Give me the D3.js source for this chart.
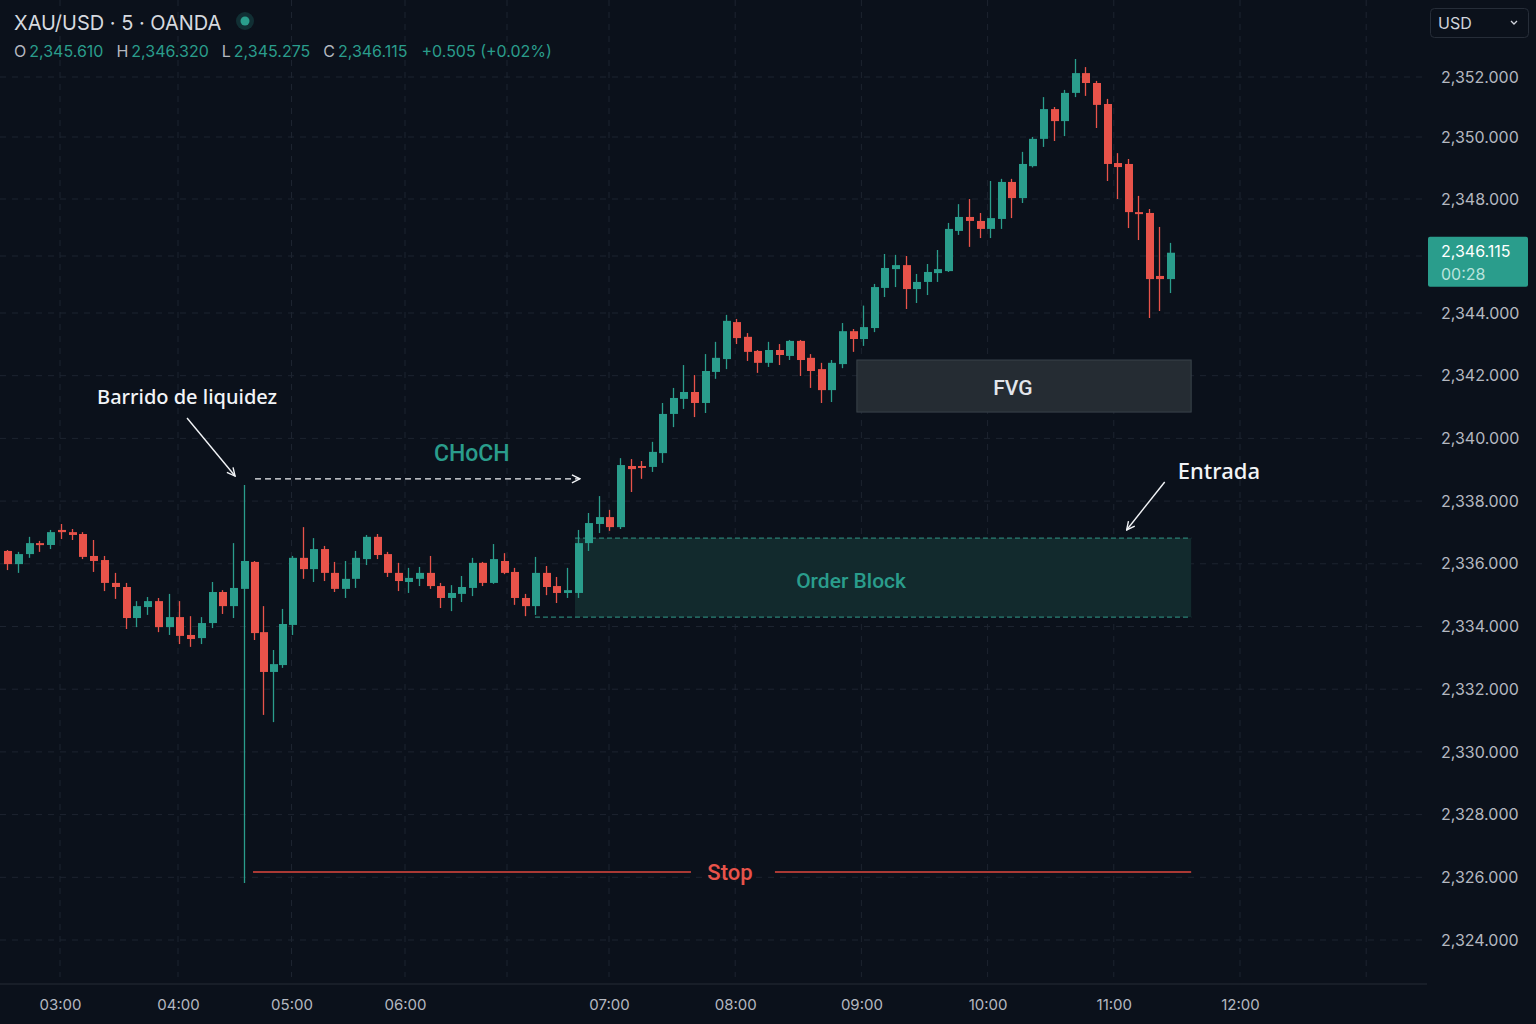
<!DOCTYPE html>
<html>
<head>
<meta charset="utf-8">
<title>XAU/USD · 5 · OANDA</title>
<script src="https://cdn.jsdelivr.net/npm/d3@7"></script>
<style>
  html, body { margin: 0; padding: 0; background: #0b111b; }
  svg { display: block; }
</style>
</head>
<body>
<div id="container"></div>
<script>
// OHLC values, one 5 min candle each
const opens = [2336.41,2335.99,2336.31,2336.66,2336.60,2337.08,2337.01,2336.95,2336.25,2336.12,
  2335.39,2335.26,2334.27,2334.62,2334.81,2333.98,2334.30,2333.73,2333.63,2334.11,
  2335.10,2334.65,2335.20,2336.06,2333.82,2332.55,2332.77,2334.05,2336.19,2335.83,
  2336.47,2335.71,2335.20,2335.52,2336.15,2336.86,2336.31,2335.71,2335.42,2335.52,
  2335.71,2335.29,2334.91,2335.04,2335.23,2336.03,2335.39,2336.09,2335.74,2334.91,
  2334.65,2335.71,2335.29,2335.07,2335.07,2336.66,2337.27,2337.49,2337.17,2339.12,
  2339.12,2339.09,2339.53,2340.78,2341.26,2341.48,2341.13,2342.12,2342.53,2343.71,
  2343.24,2342.79,2342.41,2342.82,2342.63,2343.11,2342.57,2342.21,2341.54,2342.37,
  2343.42,2343.17,2343.52,2344.88,2345.54,2345.68,2344.84,2345.09,2345.40,2345.47,
  2346.88,2347.37,2347.23,2346.95,2347.30,2348.55,2348.03,2349.06,2349.94,2350.93,
  2350.53,2351.47,2352.13,2351.80,2351.10,2349.16,2349.13,2347.54,2347.51,2345.30,
  2345.19];
const highs = [2336.44,2336.38,2336.86,2336.73,2337.08,2337.27,2337.11,2337.01,2336.76,2336.25,
  2335.71,2335.39,2334.81,2334.94,2334.91,2335.04,2334.81,2334.33,2334.30,2335.42,
  2335.16,2336.66,2338.51,2336.09,2334.65,2333.25,2334.56,2336.25,2337.17,2336.82,
  2336.57,2336.06,2336.09,2336.41,2336.92,2336.95,2336.38,2336.03,2335.87,2335.90,
  2336.25,2335.39,2335.32,2335.61,2336.19,2336.06,2336.63,2336.34,2335.87,2335.04,
  2336.22,2335.93,2335.58,2335.87,2337.08,2337.62,2338.16,2337.72,2339.37,2339.34,
  2339.28,2339.89,2341.13,2341.61,2342.34,2342.02,2342.69,2343.08,2343.94,2343.81,
  2343.36,2342.82,2343.08,2343.01,2343.14,2343.14,2342.69,2342.41,2342.50,2343.68,
  2343.49,2344.26,2345.02,2346.07,2346.04,2346.00,2345.37,2345.72,2346.21,2347.16,
  2347.82,2348.00,2347.51,2348.58,2348.65,2348.65,2349.52,2350.00,2351.33,2351.00,
  2351.57,2352.60,2352.33,2351.87,2351.27,2349.48,2349.29,2348.10,2347.65,2347.02,
  2346.46];
const lows = [2335.80,2335.71,2336.19,2336.38,2336.47,2336.79,2336.76,2336.15,2335.74,2335.13,
  2334.88,2333.92,2333.98,2334.37,2333.82,2333.73,2333.44,2333.35,2333.44,2333.95,
  2334.40,2334.27,2325.82,2333.57,2331.18,2330.95,2332.68,2333.73,2335.52,2335.42,
  2335.45,2335.10,2334.91,2335.23,2335.96,2336.15,2335.58,2335.13,2335.07,2335.29,
  2335.20,2334.59,2334.49,2334.78,2334.97,2335.29,2335.36,2335.67,2334.69,2334.33,
  2334.37,2335.00,2334.75,2334.91,2334.91,2336.41,2336.98,2337.05,2337.11,2338.29,
  2338.71,2338.93,2339.22,2340.36,2340.94,2340.68,2340.81,2341.90,2342.21,2343.01,
  2342.47,2342.09,2342.28,2342.34,2342.50,2341.99,2341.61,2341.13,2341.16,2342.24,
  2342.76,2342.95,2343.39,2344.56,2344.91,2344.14,2344.35,2344.63,2345.09,2345.44,
  2346.74,2346.32,2346.63,2346.63,2346.95,2347.33,2347.86,2349.02,2349.68,2349.87,
  2350.03,2351.33,2351.37,2350.30,2348.58,2348.00,2346.98,2346.56,2343.84,2344.07,
  2344.70];
const closes = [2335.99,2336.31,2336.66,2336.60,2337.01,2337.01,2336.92,2336.22,2336.09,2335.39,
  2335.26,2334.27,2334.65,2334.81,2333.98,2334.30,2333.70,2333.60,2334.11,2335.10,
  2334.65,2335.23,2336.09,2333.79,2332.55,2332.80,2334.08,2336.19,2335.83,2336.47,
  2335.71,2335.20,2335.52,2336.19,2336.86,2336.28,2335.71,2335.45,2335.55,2335.71,
  2335.29,2334.91,2335.07,2335.26,2336.03,2335.39,2336.15,2335.71,2334.91,2334.65,
  2335.71,2335.26,2335.07,2335.16,2336.66,2337.30,2337.49,2337.17,2339.15,2339.02,
  2339.06,2339.57,2340.78,2341.29,2341.48,2341.13,2342.15,2342.57,2343.75,2343.20,
  2342.76,2342.41,2342.82,2342.66,2343.11,2342.50,2342.15,2341.54,2342.41,2343.42,
  2343.17,2343.55,2344.91,2345.58,2345.68,2344.84,2345.09,2345.44,2345.54,2346.95,
  2347.37,2347.23,2346.95,2347.33,2348.55,2348.03,2349.13,2349.94,2350.93,2350.53,
  2351.47,2352.13,2351.80,2351.07,2349.13,2349.03,2347.54,2347.47,2345.19,2345.19,
  2346.115];

// axis ticks
const priceTicks = d3.range(2324, 2353, 2);
const hourLabels = ["03:00","04:00","05:00","06:00","07:00","08:00","09:00","10:00","11:00","12:00"];
const gridHours = ["03:00","04:00","05:00","06:00","06:30","07:00","08:00","09:00","10:00","11:00","12:00","13:00"];

// header
const symbolName = "XAU/USD · 5 · OANDA";
const ohlcLabels = ["O", "H", "L", "C"];
const ohlcValues = ["2,345.610", "2,346.320", "2,345.275", "2,346.115"];
const changeText = "+0.505 (+0.02%)";
const countdown = "00:28";

// annotations (candle index / price)
const zones = [
  {name: "FVG", from: 80.4, to: 112, top: 2342.50, bottom: 2340.84, labelAt: 95.15},
  {name: "Order Block", from: 53.75, to: 112, top: 2336.82, bottom: 2334.30, labelAt: 79.85, lineFrom: 49.97}
];
const stopLevel = 2326.17, stopFrom = 22.94, stopTo = 112, stopLabelAt = 68.4;
const chochLevel = 2338.71, chochFrom = 23.15, chochTo = 54.22;

const width = 1536, height = 1024;
const plotRight = 1427, plotBottom = 984;
const green = "#2a9d8c", red = "#e8534a", bg = "#0b111b";
const uiFont = "Inter, Roboto, sans-serif";

const parseHM = d3.timeParse("%H:%M");
const x = d3.scaleLinear().domain([0, 22, 27, opens.length - 1]).range([7, 244, 292, 1170]);
const y = d3.scaleLinear()
  .domain([2324, 2344, 2348, 2350, 2352])
  .range([940, 313, 199, 137, 77]);
const t = d3.scaleTime()
  .domain(["03:00","04:00","06:00","07:00","12:00"].map(parseHM))
  .range([60, 178, 405, 609, 1240]);

const svg = d3.create("svg").attr("width", width).attr("height", height)
  .style("font-family", "Roboto, 'Noto Sans', sans-serif");

svg.append("rect").attr("width", width).attr("height", height).attr("fill", bg);

const defs = svg.append("defs");
defs.append("marker").attr("id", "arrow")
  .attr("viewBox", "0 0 10 10").attr("refX", 9).attr("refY", 5)
  .attr("markerWidth", 10).attr("markerHeight", 10)
  .attr("markerUnits", "userSpaceOnUse").attr("orient", "auto")
  .append("path").attr("d", "M1,1 L9,5 L1,9")
  .attr("fill", "none").attr("stroke", "#f2f4f7").attr("stroke-width", 1.4);

// grid
const grid = svg.append("g");
grid.selectAll(".hg").data(priceTicks).join("line")
  .attr("x1", 0).attr("x2", plotRight)
  .attr("y1", d => y(d)).attr("y2", d => y(d))
  .attr("stroke", "#1d2430").attr("stroke-dasharray", "6,6");
grid.selectAll(".vg").data(gridHours.map(parseHM)).join("line")
  .attr("x1", d => t(d)).attr("x2", d => t(d))
  .attr("y1", 0).attr("y2", 977)
  .attr("stroke", "#1d2430").attr("stroke-dasharray", "6,6");
svg.append("line").attr("x1", 0).attr("x2", plotRight)
  .attr("y1", plotBottom).attr("y2", plotBottom)
  .attr("stroke", "#262c37");

// zones behind the candles
const zg = svg.append("g");
const fvg = zones[0], ob = zones[1];
zg.append("rect")
  .attr("x", x(fvg.from)).attr("width", x(fvg.to) - x(fvg.from))
  .attr("y", y(fvg.top)).attr("height", y(fvg.bottom) - y(fvg.top))
  .attr("fill", "#252c33").attr("stroke", "#3a434b").attr("stroke-width", 1);
zg.append("text").attr("x", x(fvg.labelAt)).attr("y", (y(fvg.top) + y(fvg.bottom)) / 2 + 2)
  .attr("text-anchor", "middle").attr("dominant-baseline", "central")
  .attr("font-size", 21).attr("font-weight", 500).attr("fill", "#e3e6eb").text(fvg.name);

zg.append("rect")
  .attr("x", x(ob.from)).attr("width", x(ob.to) - x(ob.from))
  .attr("y", y(ob.top)).attr("height", y(ob.bottom) - y(ob.top))
  .attr("fill", "#122a2d");
zg.append("line").attr("x1", x(ob.from)).attr("x2", x(ob.to))
  .attr("y1", y(ob.top)).attr("y2", y(ob.top))
  .attr("stroke", "#2a8074").attr("stroke-width", 1.3).attr("stroke-dasharray", "5,3");
zg.append("line").attr("x1", x(ob.lineFrom)).attr("x2", x(ob.to))
  .attr("y1", y(ob.bottom)).attr("y2", y(ob.bottom))
  .attr("stroke", "#2a8074").attr("stroke-width", 1.3).attr("stroke-dasharray", "5,3");
zg.append("text").attr("x", x(ob.labelAt)).attr("y", (y(ob.top) + y(ob.bottom)) / 2 + 3)
  .attr("text-anchor", "middle").attr("dominant-baseline", "central")
  .attr("font-size", 21).attr("font-weight", 500).attr("fill", green).text(ob.name);

// candles
const candles = svg.append("g").selectAll("g").data(opens.map((o, i) => i)).join("g");
const col = i => closes[i] >= opens[i] ? green : red;
candles.append("line")
  .attr("x1", i => Math.round(x(i)) + 0.5).attr("x2", i => Math.round(x(i)) + 0.5)
  .attr("y1", i => y(highs[i])).attr("y2", i => y(lows[i]))
  .attr("stroke", col).attr("stroke-width", 1.3);
candles.append("rect")
  .attr("x", i => Math.round(x(i)) - 3)
  .attr("width", 8)
  .attr("y", i => y(Math.max(opens[i], closes[i])))
  .attr("height", i => Math.max(2, Math.abs(y(opens[i]) - y(closes[i]))))
  .attr("fill", col);

// stop line
svg.append("line").attr("x1", x(stopFrom)).attr("x2", x(stopLabelAt) - 39)
  .attr("y1", y(stopLevel)).attr("y2", y(stopLevel)).attr("stroke", "#e0473e").attr("stroke-width", 1.6);
svg.append("line").attr("x1", x(stopLabelAt) + 45).attr("x2", x(stopTo))
  .attr("y1", y(stopLevel)).attr("y2", y(stopLevel)).attr("stroke", "#e0473e").attr("stroke-width", 1.6);
svg.append("text").attr("x", x(stopLabelAt)).attr("y", y(stopLevel) + 8)
  .attr("text-anchor", "middle").attr("font-size", 22).attr("font-weight", 500)
  .attr("fill", red).text("Stop");

// CHoCH
svg.append("line").attr("x1", x(chochFrom)).attr("x2", x(chochTo))
  .attr("y1", y(chochLevel)).attr("y2", y(chochLevel))
  .attr("stroke", "#f2f4f7").attr("stroke-width", 1.3).attr("stroke-dasharray", "6,4")
  .attr("marker-end", "url(#arrow)");
svg.append("text").attr("x", x(44)).attr("y", y(2339.28))
  .attr("text-anchor", "middle").attr("font-size", 23).attr("font-weight", 500)
  .attr("fill", green).text("CHoCH");

// sweep + entry
svg.append("text").attr("x", x(8.36)).attr("y", y(2341.10))
  .attr("font-size", 20).attr("font-weight", 500).attr("fill", "#f2f4f7")
  .style("font-family", "'Noto Sans', Roboto, sans-serif").text("Barrido de liquidez");
svg.append("line").attr("x1", x(16.71)).attr("y1", y(2340.65))
  .attr("x2", x(21.17)).attr("y2", y(2338.80))
  .attr("stroke", "#f2f4f7").attr("stroke-width", 1.4).attr("marker-end", "url(#arrow)");
svg.append("text").attr("x", x(110.74)).attr("y", y(2338.71))
  .attr("font-size", 22).attr("font-weight", 500).attr("fill", "#f2f4f7")
  .style("font-family", "'Noto Sans', Roboto, sans-serif").text("Entrada");
svg.append("line").attr("x1", x(109.5)).attr("y1", y(2338.61))
  .attr("x2", x(105.9)).attr("y2", y(2337.08))
  .attr("stroke", "#f2f4f7").attr("stroke-width", 1.4).attr("marker-end", "url(#arrow)");

// last price tag sits over the price axis
const last = closes[closes.length - 1];
const tagTop = y(last) - 16, tagH = 50;

// price axis
const yAxis = svg.append("g").attr("transform", `translate(${plotRight},0)`)
  .call(d3.axisRight(y)
    .tickValues(priceTicks.filter(p => y(p) < tagTop - 8 || y(p) > tagTop + tagH + 8))
    .tickFormat(d3.format(",.3f")).tickSize(0).tickPadding(14));
yAxis.select(".domain").remove();
yAxis.selectAll("text").attr("font-size", 16).attr("fill", "#b4b8c0")
  .style("font-family", uiFont);

// time axis
const xAxis = svg.append("g").attr("transform", `translate(0,${plotBottom})`)
  .call(d3.axisBottom(t).tickValues(hourLabels.map(parseHM)).tickFormat(d3.timeFormat("%H:%M")).tickSize(0).tickPadding(15));
xAxis.select(".domain").remove();
xAxis.selectAll("text").attr("font-size", 15).attr("fill", "#b4b8c0")
  .style("font-family", uiFont);

svg.append("rect").attr("x", 1428).attr("y", tagTop).attr("width", 100).attr("height", tagH)
  .attr("rx", 2).attr("fill", green);
svg.append("text").attr("x", 1441).attr("y", y(last) + 4).attr("font-size", 16)
  .style("font-family", uiFont).attr("fill", "#ffffff").text(d3.format(",.3f")(last));
svg.append("text").attr("x", 1441).attr("y", y(last) + 27).attr("font-size", 16)
  .style("font-family", uiFont).attr("fill", "#b9e3dc").text(countdown);

// currency box
svg.append("rect").attr("x", 1430.5).attr("y", 8.5).attr("width", 98).attr("height", 29)
  .attr("rx", 4).attr("fill", "none").attr("stroke", "#262d38");
svg.append("text").attr("x", 1438).attr("y", 29).attr("font-size", 16)
  .style("font-family", uiFont).attr("fill", "#d1d4dc").text("USD");
svg.append("path").attr("d", "M1511,21 L1514,24 L1517,21")
  .attr("fill", "none").attr("stroke", "#d1d4dc").attr("stroke-width", 1.3);

// header
svg.append("text").attr("x", 14).attr("y", 30).attr("font-size", 20)
  .style("font-family", uiFont).attr("fill", "#d6d9df").text(symbolName);
svg.append("circle").attr("cx", 245).attr("cy", 21).attr("r", 9).attr("fill", green).attr("opacity", 0.22);
svg.append("circle").attr("cx", 245).attr("cy", 21).attr("r", 4.5).attr("fill", green);

const ohlc = svg.append("text").attr("x", 14).attr("y", 57).attr("font-size", 16)
  .style("font-family", uiFont);
ohlcLabels.forEach((l, i) => {
  ohlc.append("tspan").attr("fill", "#b4b8c0").attr("dx", i ? 13 : 0).text(l);
  ohlc.append("tspan").attr("fill", green).attr("dx", 3).text(ohlcValues[i]);
});
ohlc.append("tspan").attr("fill", green).attr("dx", 14).text(changeText);

container.append(svg.node());
</script>
</body>
</html>
